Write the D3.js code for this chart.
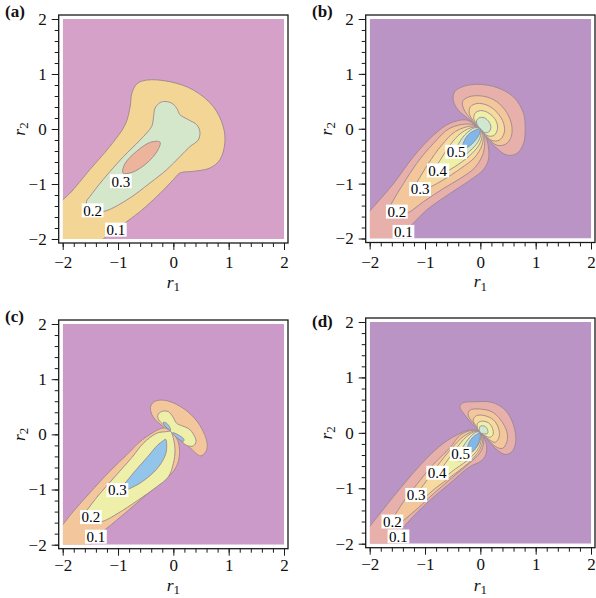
<!DOCTYPE html>
<html><head><meta charset="utf-8">
<script src="https://cdn.jsdelivr.net/npm/d3@7"></script>
<style>body{margin:0;background:#fff}svg{display:block}
svg text{font-family:"Liberation Serif","Tinos","Times New Roman",Times,serif;}
</style>
</head><body>
<svg id="chart" width="596" height="598"></svg>
<script>
// ---------- axis data ----------
const tickValues = [-2, -1, 0, 1, 2];
const tickLabels = ["\u22122", "\u22121", "0", "1", "2"];
const minorTicks = d3.range(-2, 2.0001, 0.2).map(v => +v.toFixed(1));

// ---------- panel (a) contour data, [r1, r2] ----------
const a_c1 = [[-2,-1.29],[-1.87,-1.17],[-1.51,-0.74],[-1.15,-0.32],[-0.87,0.08],[-0.78,0.41],[-0.75,0.65],[-0.66,0.82],[-0.48,0.89],[-0.06,0.86],[0.36,0.71],[0.72,0.41],[0.90,0.05],[0.93,-0.26],[0.84,-0.56],[0.66,-0.71],[0.36,-0.77],[0.12,-0.80],[0.0,-0.92],[-0.24,-1.17],[-0.60,-1.50],[-0.96,-1.77],[-1.27,-2]];
const a_c2 = [[-0.15,0.50],[-0.03,0.47],[0.06,0.38],[0.12,0.26],[0.27,0.17],[0.42,0.08],[0.48,-0.05],[0.45,-0.20],[0.30,-0.32],[0.12,-0.50],[-0.12,-0.74],[-0.42,-0.98],[-0.84,-1.29],[-1.27,-1.50],[-1.54,-1.47],[-1.57,-1.32],[-1.51,-1.23],[-1.27,-0.92],[-0.90,-0.50],[-0.60,-0.20],[-0.39,0.05],[-0.36,0.20],[-0.33,0.38],[-0.24,0.48]];
const a_c3 = [[-0.24,-0.24],[-0.29,-0.40],[-0.49,-0.63],[-0.75,-0.79],[-0.91,-0.80],[-0.88,-0.64],[-0.67,-0.41],[-0.41,-0.24]];
const a_labels = [["0.3",-0.95,-0.95],["0.2",-1.46,-1.48],["0.1",-1.04,-1.83]];

// ---------- panel (b) ----------
const b_c1_lo1 = [[-2,-1.50],[-1.57,-1.00],[-1.21,-0.51],[-0.85,-0.12],[-0.55,0.10],[-0.25,0.16],[-0.10,0.07],[0,0]];
const b_c1_lo2 = [[0,0],[0.08,-0.09],[0.145,-0.33],[0.145,-0.57],[0.05,-0.75],[-0.19,-0.94],[-0.55,-1.18],[-0.97,-1.48],[-1.21,-1.72],[-1.40,-1.90],[-1.47,-2]];
const b_c1_up = [[0,0],[-0.19,0.16],[-0.40,0.34],[-0.49,0.52],[-0.46,0.68],[-0.19,0.80],[0.24,0.77],[0.60,0.58],[0.78,0.28],[0.81,-0.02],[0.78,-0.27],[0.66,-0.45],[0.48,-0.48],[0.27,-0.33],[0.08,-0.12],[0,0]];
const b_c2_up = [[0,0],[-0.16,0.16],[-0.30,0.36],[-0.32,0.50],[-0.21,0.58],[0.0,0.60],[0.24,0.53],[0.44,0.35],[0.56,0.10],[0.56,-0.14],[0.46,-0.28],[0.30,-0.30],[0.14,-0.17],[0,0]];
const b_c3_up = [[0,0],[-0.11,0.12],[-0.20,0.28],[-0.18,0.40],[-0.06,0.46],[0.12,0.43],[0.30,0.30],[0.42,0.10],[0.43,-0.08],[0.34,-0.21],[0.20,-0.21],[0.08,-0.10],[0,0]];
const b_c4_up = [[0,0],[-0.07,0.09],[-0.12,0.20],[-0.08,0.30],[0.03,0.33],[0.16,0.28],[0.28,0.15],[0.31,0.0],[0.25,-0.12],[0.14,-0.13],[0.05,-0.06],[0,0]];
const b_c5_up = [[0,0],[-0.05,0.06],[-0.07,0.14],[-0.02,0.20],[0.07,0.20],[0.16,0.12],[0.19,0.02],[0.15,-0.06],[0.08,-0.07],[0.03,-0.03],[0,0]];
const b_c2_lo = [[0,0],[-0.19,0.085],[-0.55,0.01],[-0.85,-0.27],[-1.15,-0.63],[-1.39,-1.00],[-1.57,-1.30],[-1.66,-1.50],[-1.60,-1.57],[-1.33,-1.54],[-1.03,-1.33],[-0.67,-1.09],[-0.37,-0.91],[-0.10,-0.71],[0.04,-0.48],[0.08,-0.27],[0.066,-0.10],[0,0]];
const b_c3_lo = [[0,0],[-0.15,0.05],[-0.45,-0.05],[-0.70,-0.30],[-0.95,-0.65],[-1.13,-0.95],[-1.22,-1.10],[-1.18,-1.16],[-1.05,-1.13],[-0.70,-0.95],[-0.35,-0.72],[-0.10,-0.52],[0.03,-0.30],[0.05,-0.12],[0,0]];
const b_c4_lo = [[0,0],[-0.12,0.03],[-0.35,-0.08],[-0.55,-0.30],[-0.73,-0.58],[-0.84,-0.77],[-0.82,-0.83],[-0.70,-0.82],[-0.40,-0.65],[-0.15,-0.45],[0.0,-0.25],[0.03,-0.08],[0,0]];
const b_c5_lo = [[0,0],[-0.10,0.02],[-0.28,-0.11],[-0.42,-0.32],[-0.49,-0.46],[-0.45,-0.51],[-0.33,-0.50],[-0.15,-0.37],[-0.02,-0.20],[0.01,-0.06],[0,0]];
const b_c6_lo = [[0,0],[-0.08,-0.02],[-0.21,-0.10],[-0.30,-0.24],[-0.31,-0.34],[-0.22,-0.33],[-0.09,-0.21],[-0.01,-0.08],[0,0]];
const b_labels = [["0.5",-0.44,-0.42],["0.4",-0.77,-0.76],["0.3",-1.09,-1.10],["0.2",-1.51,-1.51],["0.1",-1.39,-1.88]];

// ---------- panel (c) ----------
const c_c1_lo1 = [[-2,-1.64],[-1.81,-1.40],[-1.51,-1.06],[-1.15,-0.67],[-0.84,-0.37],[-0.60,-0.13],[-0.39,0.02],[-0.24,0.10],[-0.12,0.115],[-0.04,0.06]];
const c_c1_lo2 = [[-0.04,0.06],[0.06,-0.07],[0.11,-0.25],[0.09,-0.49],[0.0,-0.67],[-0.18,-0.85],[-0.48,-1.09],[-0.84,-1.40],[-1.20,-1.70],[-1.40,-1.86],[-1.50,-2]];
const c_c1_up = [[-0.04,0.06],[-0.18,0.14],[-0.33,0.27],[-0.40,0.39],[-0.41,0.51],[-0.33,0.60],[-0.18,0.62],[0.0,0.57],[0.21,0.45],[0.41,0.26],[0.54,0.05],[0.61,-0.16],[0.59,-0.31],[0.49,-0.39],[0.32,-0.26],[0.14,-0.10],[0.02,0.01],[-0.04,0.06]];
const c_c2_lo = [[-0.04,0.06],[-0.12,0.05],[-0.30,0.02],[-0.54,-0.16],[-0.75,-0.42],[-1.05,-0.76],[-1.35,-1.10],[-1.58,-1.40],[-1.68,-1.53],[-1.60,-1.58],[-1.45,-1.55],[-1.30,-1.58],[-1.00,-1.43],[-0.65,-1.20],[-0.30,-0.95],[-0.09,-0.77],[0.0,-0.53],[0.03,-0.28],[0.0,-0.07],[-0.04,0.06]];
const c_c2_up = [[-0.27,0.37],[-0.19,0.42],[-0.09,0.41],[-0.01,0.32],[0.06,0.20],[0.17,0.15],[0.28,0.10],[0.37,-0.01],[0.41,-0.13],[0.36,-0.21],[0.24,-0.20],[0.12,-0.10],[0.03,-0.02],[-0.05,0.05],[-0.13,0.13],[-0.23,0.22],[-0.28,0.30]];
const c_c3_lo = [[-0.14,-0.09],[-0.12,-0.20],[-0.14,-0.36],[-0.26,-0.58],[-0.46,-0.78],[-0.70,-0.94],[-0.92,-1.02],[-0.99,-0.99],[-0.89,-0.90],[-0.68,-0.65],[-0.45,-0.39],[-0.29,-0.20],[-0.19,-0.12]];
const c_c3_up1 = [[-0.18,0.22],[-0.12,0.20],[-0.06,0.12],[-0.05,0.07],[-0.11,0.11],[-0.17,0.18]];
const c_c3_up2 = [[-0.01,0.03],[0.09,-0.01],[0.19,-0.09],[0.18,-0.13],[0.09,-0.08],[0.01,-0.01]];
const c_labels = [["0.3",-1.01,-1.01],["0.2",-1.49,-1.50],["0.1",-1.40,-1.855]];

// ---------- panel (d) ----------
const d_c1_lo1 = [[-2,-1.69],[-1.81,-1.45],[-1.57,-1.15],[-1.27,-0.79],[-0.97,-0.46],[-0.67,-0.19],[-0.37,-0.01],[-0.20,0.05],[-0.08,0.04],[0,0]];
const d_c1_lo2 = [[0,0],[0.07,-0.09],[0.11,-0.21],[0.10,-0.39],[0.01,-0.51],[-0.19,-0.61],[-0.55,-0.91],[-0.97,-1.27],[-1.27,-1.57],[-1.43,-1.76],[-1.50,-1.90],[-1.54,-2]];
const d_c1_up = [[0,0],[-0.13,0.14],[-0.28,0.32],[-0.37,0.47],[-0.32,0.54],[-0.10,0.56],[0.21,0.55],[0.45,0.41],[0.60,0.14],[0.64,-0.16],[0.57,-0.34],[0.45,-0.39],[0.27,-0.28],[0.11,-0.10],[0,0]];
const d_c2_up = [[0,0],[-0.10,0.14],[-0.22,0.32],[-0.19,0.41],[-0.01,0.43],[0.21,0.38],[0.37,0.23],[0.48,0.02],[0.48,-0.16],[0.40,-0.28],[0.28,-0.25],[0.15,-0.13],[0,0]];
const d_c3_up = [[0,0],[-0.07,0.11],[-0.13,0.23],[-0.07,0.31],[0.08,0.31],[0.24,0.23],[0.33,0.08],[0.34,-0.07],[0.27,-0.17],[0.16,-0.12],[0,0]];
const d_c4_up = [[0,0],[-0.05,0.08],[-0.05,0.17],[0.02,0.21],[0.15,0.18],[0.22,0.08],[0.23,-0.03],[0.17,-0.08],[0.08,-0.05],[0,0]];
const d_c5_up = [[0,0],[-0.02,0.06],[0.0,0.12],[0.08,0.12],[0.13,0.06],[0.13,-0.01],[0.07,-0.02],[0,0]];
const d_c2_lo = [[0,0],[-0.10,0.05],[-0.35,-0.03],[-0.55,-0.27],[-0.85,-0.57],[-1.14,-0.92],[-1.40,-1.26],[-1.57,-1.52],[-1.65,-1.62],[-1.53,-1.66],[-1.20,-1.42],[-0.85,-1.10],[-0.50,-0.80],[-0.20,-0.55],[0.0,-0.35],[0.06,-0.18],[0.05,-0.07],[0,0]];
const d_c3_lo = [[0,0],[-0.08,0.04],[-0.30,-0.06],[-0.52,-0.28],[-0.78,-0.60],[-1.02,-0.93],[-1.18,-1.14],[-1.20,-1.22],[-1.08,-1.21],[-0.80,-0.99],[-0.45,-0.73],[-0.17,-0.50],[-0.01,-0.30],[0.04,-0.12],[0,0]];
const d_c4_lo = [[0,0],[-0.07,0.03],[-0.25,-0.07],[-0.45,-0.30],[-0.64,-0.56],[-0.78,-0.74],[-0.81,-0.81],[-0.70,-0.82],[-0.45,-0.65],[-0.18,-0.45],[-0.03,-0.27],[0.02,-0.10],[0,0]];
const d_c5_lo = [[0,0],[-0.06,0.02],[-0.20,-0.09],[-0.32,-0.26],[-0.41,-0.42],[-0.43,-0.49],[-0.34,-0.50],[-0.18,-0.38],[-0.04,-0.22],[0.01,-0.08],[0,0]];
const d_c6_lo = [[0,0],[-0.07,-0.03],[-0.17,-0.12],[-0.23,-0.26],[-0.20,-0.35],[-0.11,-0.31],[-0.03,-0.17],[0,-0.06],[0,0]];
const d_labels = [["0.5",-0.355,-0.38],["0.4",-0.78,-0.72],["0.3",-1.16,-1.12],["0.2",-1.59,-1.60],["0.1",-1.48,-1.87]];

// ---------- styles / layout ----------
const warm6 = {0.1:"#e7b0aa",0.2:"#f3c69b",0.3:"#f6daa0",0.4:"#eff0a8",0.5:"#cfe8d2",0.6:"#80b8ea"};
const panels = [
  {name:"(a)", box:[62.7,19,284,239], lab:[5,16.5], tickPad:6, titleDy:48.5, bg:"#d5a1c8",
   fills:{0.1:"#f3d596",0.2:"#d5e7ca",0.3:"#ebb49b"},
   regions:[{lv:0.1,kind:"edge",segs:[a_c1]},{lv:0.2,kind:"closed",pts:a_c2},{lv:0.3,kind:"closed",pts:a_c3}],
   labels:a_labels},
  {name:"(b)", box:[369.7,19,591,238.5], lab:[312,16.5], tickPad:6, titleDy:48.5, bg:"#bb94c6", fills:warm6,
   regions:[{lv:0.1,kind:"edge",segs:[b_c1_lo1,b_c1_lo2]},{lv:0.1,kind:"pinch",segs:[b_c1_up]},
            {lv:0.2,kind:"pinch",segs:[b_c2_lo]},{lv:0.2,kind:"pinch",segs:[b_c2_up]},
            {lv:0.3,kind:"pinch",segs:[b_c3_lo]},{lv:0.3,kind:"pinch",segs:[b_c3_up]},
            {lv:0.4,kind:"pinch",segs:[b_c4_lo]},{lv:0.4,kind:"pinch",segs:[b_c4_up]},
            {lv:0.5,kind:"pinch",segs:[b_c5_lo]},{lv:0.5,kind:"pinch",segs:[b_c5_up]},
            {lv:0.6,kind:"pinch",segs:[b_c6_lo]}],
   labels:b_labels},
  {name:"(c)", box:[62.7,324,284,544.7], lab:[5,322], tickPad:3, titleDy:46, bg:"#cc9ac8",
   fills:{0.1:"#f3c69b",0.2:"#eef0a9",0.3:"#93c4ea"},
   regions:[{lv:0.1,kind:"edge",segs:[c_c1_lo1,c_c1_lo2]},{lv:0.1,kind:"pinch",segs:[c_c1_up]},
            {lv:0.2,kind:"pinch",segs:[c_c2_lo]},{lv:0.2,kind:"closed",pts:c_c2_up},
            {lv:0.3,kind:"closed",pts:c_c3_lo},{lv:0.3,kind:"closed",pts:c_c3_up1},{lv:0.3,kind:"closed",pts:c_c3_up2}],
   labels:c_labels},
  {name:"(d)", box:[369.7,322,591,543.7], lab:[312,327], tickPad:3.5, titleDy:47, bg:"#bb94c6", fills:warm6,
   regions:[{lv:0.1,kind:"edge",segs:[d_c1_lo1,d_c1_lo2]},{lv:0.1,kind:"pinch",segs:[d_c1_up]},
            {lv:0.2,kind:"pinch",segs:[d_c2_lo]},{lv:0.2,kind:"pinch",segs:[d_c2_up]},
            {lv:0.3,kind:"pinch",segs:[d_c3_lo]},{lv:0.3,kind:"pinch",segs:[d_c3_up]},
            {lv:0.4,kind:"pinch",segs:[d_c4_lo]},{lv:0.4,kind:"pinch",segs:[d_c4_up]},
            {lv:0.5,kind:"pinch",segs:[d_c5_lo]},{lv:0.5,kind:"pinch",segs:[d_c5_up]},
            {lv:0.6,kind:"pinch",segs:[d_c6_lo]}],
   labels:d_labels}
];

const SERIF = '"Liberation Serif","Tinos","Times New Roman",Times,serif';
const LINE = "#9b8790";
const svg = d3.select("#chart");

panels.forEach((p, pi) => {
  const [x0, y0, x1, y1] = p.box;
  const x = d3.scaleLinear().domain([-2, 2]).range([x0, x1]);
  const y = d3.scaleLinear().domain([-2, 2]).range([y1, y0]);
  const g = svg.append("g");
  const clipId = "clip" + pi;
  g.append("clipPath").attr("id", clipId).append("rect")
    .attr("x", x0).attr("y", y0).attr("width", x1 - x0).attr("height", y1 - y0);
  const plot = g.append("g").attr("clip-path", `url(#${clipId})`);
  plot.append("rect").attr("x", x0).attr("y", y0).attr("width", x1 - x0).attr("height", y1 - y0).attr("fill", p.bg);

  const line = d3.line().x(d => x(d[0])).y(d => y(d[1]));
  const open = d3.curveCatmullRom.alpha(0.5);
  const closed = d3.curveCatmullRomClosed.alpha(0.5);
  function segPath(segs) {
    let d = "";
    segs.forEach((s, i) => { const ps = line.curve(open)(s); d += i ? "L" + ps.slice(1) : ps; });
    return d;
  }
  const regs = p.regions.slice().sort((a, b) => a.lv - b.lv);
  regs.forEach(r => {
    let fillD, strokeD;
    if (r.kind === "closed") { fillD = line.curve(closed)(r.pts); strokeD = fillD; }
    else if (r.kind === "edge") { strokeD = segPath(r.segs); fillD = strokeD + `L${x(-2)},${y(-2)}Z`; }
    else { strokeD = segPath(r.segs) + "Z"; fillD = strokeD; }
    plot.append("path").attr("d", fillD).attr("fill", p.fills[r.lv]).attr("stroke", "none");
    plot.append("path").attr("d", strokeD).attr("fill", "none").attr("stroke", LINE).attr("stroke-width", 0.9);
  });

  // contour labels
  p.labels.forEach(([t, r1, r2]) => {
    const lg = plot.append("g");
    const tx = lg.append("text").attr("x", x(r1)).attr("y", y(r2)).attr("dy", "0.35em")
      .attr("text-anchor", "middle").style("font-family", SERIF).style("font-size", "15px").attr("fill", "#000").text(t);
    const bb = tx.node().getBBox();
    lg.insert("rect", "text").attr("x", bb.x - 1.5).attr("y", y(r2) - 7).attr("width", bb.width + 3).attr("height", 14).attr("fill", "#fff");
  });

  // frame
  const pad = 4;
  g.append("rect").attr("x", x0 - pad).attr("y", y0 - pad).attr("width", x1 - x0 + 2 * pad).attr("height", y1 - y0 + 2 * pad)
    .attr("fill", "none").attr("stroke", "#1a1a1a").attr("stroke-width", 1.3);

  // axes
  const fmt = d => tickLabels[tickValues.indexOf(d)];
  const bx = g.append("g").attr("transform", `translate(0,${y1 + pad})`)
    .call(d3.axisBottom(x).tickValues(tickValues).tickFormat(fmt).tickSize(7).tickSizeOuter(0).tickPadding(p.tickPad));
  const bxm = g.append("g").attr("transform", `translate(0,${y1 + pad})`)
    .call(d3.axisBottom(x).tickValues(minorTicks).tickFormat("").tickSize(4).tickSizeOuter(0));
  const ly = g.append("g").attr("transform", `translate(${x0 - pad},0)`)
    .call(d3.axisLeft(y).tickValues(tickValues).tickFormat(fmt).tickSize(7).tickSizeOuter(0).tickPadding(5));
  const lym = g.append("g").attr("transform", `translate(${x0 - pad},0)`)
    .call(d3.axisLeft(y).tickValues(minorTicks).tickFormat("").tickSize(4).tickSizeOuter(0));
  [bx, bxm, ly, lym].forEach(a => {
    a.attr("font-family", null).attr("font-size", null);
    a.select(".domain").remove();
    a.selectAll("line").attr("stroke", "#1a1a1a").attr("stroke-width", 1);
    a.selectAll("text").style("font-family", SERIF).style("font-size", "17px").attr("fill", "#111");
  });

  // axis titles
  const t1 = g.append("text").attr("x", (x0 + x1) / 2).attr("y", y1 + p.titleDy).attr("text-anchor", "middle")
    .style("font-family", SERIF).style("font-size", "17.5px").attr("fill", "#111");
  t1.append("tspan").style("font-style", "italic").text("r");
  t1.append("tspan").style("font-size", "13px").attr("dy", 3.5).text("1");
  const t2 = g.append("text").attr("transform", `translate(${x0 - 38},${(y0 + y1) / 2}) rotate(-90)`).attr("text-anchor", "middle")
    .style("font-family", SERIF).style("font-size", "17.5px").attr("fill", "#111");
  t2.append("tspan").style("font-style", "italic").text("r");
  t2.append("tspan").style("font-size", "13px").attr("dy", 3.5).text("2");

  // panel label
  svg.append("text").attr("x", p.lab[0]).attr("y", p.lab[1]).style("font-family", SERIF).style("font-weight", "bold")
    .style("font-size", "17px").attr("fill", "#111").text(p.name);
});
</script>
</body></html>
